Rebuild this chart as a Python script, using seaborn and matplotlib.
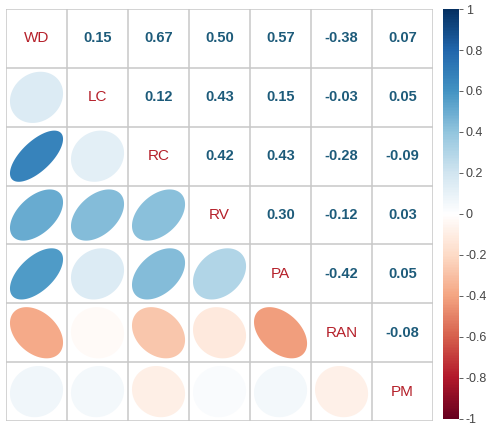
import numpy as np
import pandas as pd
import seaborn as sns
import matplotlib.pyplot as plt
from matplotlib.colors import LinearSegmentedColormap
from matplotlib.patches import Polygon

variables = ['WD', 'LC', 'RC', 'RV', 'PA', 'RAN', 'PM']

# upper triangle, row by row
upper = {
    ('WD', 'LC'): 0.15, ('WD', 'RC'): 0.67, ('WD', 'RV'): 0.50, ('WD', 'PA'): 0.57,
    ('WD', 'RAN'): -0.38, ('WD', 'PM'): 0.07,
    ('LC', 'RC'): 0.12, ('LC', 'RV'): 0.43, ('LC', 'PA'): 0.15, ('LC', 'RAN'): -0.03,
    ('LC', 'PM'): 0.05,
    ('RC', 'RV'): 0.42, ('RC', 'PA'): 0.43, ('RC', 'RAN'): -0.28, ('RC', 'PM'): -0.09,
    ('RV', 'PA'): 0.30, ('RV', 'RAN'): -0.12, ('RV', 'PM'): 0.03,
    ('PA', 'RAN'): -0.42, ('PA', 'PM'): 0.05,
    ('RAN', 'PM'): -0.08,
}

cbar_ticks = [1, 0.8, 0.6, 0.4, 0.2, 0, -0.2, -0.4, -0.6, -0.8, -1]

corr = pd.DataFrame(np.eye(len(variables)), index=variables, columns=variables)
for (a, b), v in upper.items():
    corr.loc[a, b] = v
    corr.loc[b, a] = v

rdbu = LinearSegmentedColormap.from_list('corr_rdbu', [
    '#67001F', '#B2182B', '#D6604D', '#F4A582', '#FDDBC7', '#FFFFFF',
    '#D1E5F0', '#92C5DE', '#4393C3', '#2166AC', '#053061'])

fig = plt.figure(figsize=(4.92, 4.30), dpi=100)
ax = fig.add_axes([0.0122, 0.0209, 0.868, 0.958])
cax = fig.add_axes([0.900, 0.026, 0.033, 0.953])

# heatmap only provides the frame + colorbar, cells are drawn by hand below
sns.heatmap(corr, mask=np.ones(corr.shape, dtype=bool), cmap=rdbu, vmin=-1, vmax=1,
            ax=ax, cbar_ax=cax, xticklabels=False, yticklabels=False)

n = len(variables)
for k in range(n + 1):
    ax.axhline(k, color='#c8c8c8', lw=1.1, zorder=1)
    ax.axvline(k, color='#c8c8c8', lw=1.1, zorder=1)
ax.set_xlim(0, n)
ax.set_ylim(n, 0)

t = np.linspace(0, 2 * np.pi, 99)
for i, row in enumerate(variables):
    for j, col in enumerate(variables):
        r = corr.loc[row, col]
        if i == j:
            ax.text(j + 0.5, i + 0.5, row, ha='center', va='center', fontsize=11,
                    color='#B5202A', family='Liberation Sans')
        elif j > i:
            ax.text(j + 0.5, i + 0.5, f'{r:.2f}', ha='center', va='center', fontsize=10.5,
                    fontweight='bold', color='#1D5B7A', family='Liberation Sans')
        else:
            a = np.arccos(r)
            ex = np.cos(t + a / 2) / 2 * 0.87
            ey = np.cos(t - a / 2) / 2 * 0.87
            pts = np.column_stack([j + 0.5 + ex, i + 0.5 - ey])
            ax.add_patch(Polygon(pts, closed=True, facecolor=rdbu((r + 1) / 2),
                                 edgecolor='none', zorder=2))

cb = ax.collections[0].colorbar
cb.set_ticks(cbar_ticks)
cb.set_ticklabels([('%g' % v) for v in cbar_ticks])
cb.outline.set_visible(False)
cax.tick_params(labelsize=9, colors='#444444', length=3, width=0.6, pad=2)
for lab in cax.get_yticklabels():
    lab.set_family('Liberation Sans')

fig.savefig('out.png', dpi=100)
